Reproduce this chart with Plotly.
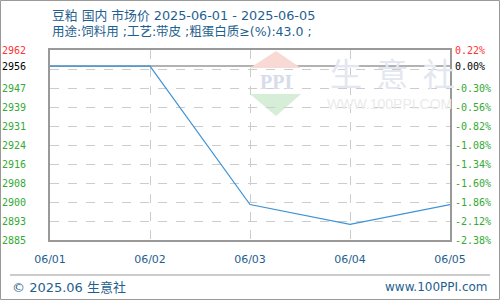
import plotly.graph_objects as go

# ---- data ----
dates = ["06/01", "06/02", "06/03", "06/04", "06/05"]
prices = [2956, 2956, 2900, 2892, 2900]
base_price = 2956
left_labels = ["2885", "2893", "2900", "2908", "2916", "2924", "2931", "2939", "2947", "2956", "2962"]
right_labels = ["-2.38%", "-2.12%", "-1.86%", "-1.60%", "-1.34%", "-1.08%", "-0.82%", "-0.56%", "-0.30%", "0.00%", "0.22%"]
title_line1 = "豆粕 国内 市场价 2025-06-01 - 2025-06-05"
title_line2 = "用途:饲料用 ;工艺:带皮 ;粗蛋白质≥(%):43.0 ;"
footer_left = "© 2025.06 生意社"
footer_right = "www.100PPI.com"

y_min = base_price * (1 - 0.0238)
y_max = base_price * (1 + 0.0022)
n = len(left_labels) - 1
grid_vals = [y_min + i * (y_max - y_min) / n for i in range(n + 1)]
label_vals = list(grid_vals)
label_vals[n - 1] = base_price


def colored(labels, base_idx, top_idx):
    out = []
    for i, t in enumerate(labels):
        if i == top_idx:
            c = "#ff3333"
        elif i == base_idx:
            c = "#000000"
        else:
            c = "#33aa33"
        out.append(f"<span style='color:{c}'>{t}</span>")
    return out


TXT = "#1f5f8f"
FONT = "DejaVu Sans, Noto Sans CJK SC"
CJK = "Noto Sans CJK SC"
MONO = "DejaVu Sans Mono"

fig = go.Figure()
fig.add_trace(go.Scatter(x=dates, y=prices, mode="lines",
                         line=dict(color="#3d93d6", width=1.2), showlegend=False))
fig.add_trace(go.Scatter(x=dates, y=prices, yaxis="y2", mode="lines",
                         line=dict(width=0), hoverinfo="skip", showlegend=False))
fig.add_trace(go.Scatter(x=dates, y=prices, yaxis="y3", mode="lines",
                         line=dict(width=0), hoverinfo="skip", showlegend=False))

W, H = 500, 300
L, R, T, B = 50, 50, 50, 60
pw, ph = W - L - R, H - T - B


def px(x):
    return (x - L) / pw


def py(y):
    return (H - B - y) / ph


fig.update_layout(
    width=W, height=H,
    margin=dict(l=L, r=R, t=T, b=B, autoexpand=False),
    paper_bgcolor="white", plot_bgcolor="rgba(0,0,0,0)",
    font=dict(family=FONT, size=11, color=TXT),
    xaxis=dict(type="category", range=[0, len(dates) - 1], automargin=False,
               showgrid=True, gridcolor="#cccccc", griddash="dash", gridwidth=1,
               showline=True, linecolor="#999999", linewidth=2, mirror=True,
               ticks="", tickfont=dict(family="DejaVu Sans", size=11, color=TXT),
               ticklabelstandoff=8, zeroline=False, fixedrange=True),
    yaxis=dict(range=[y_min, y_max], tickvals=label_vals, automargin=False,
               ticktext=colored(left_labels, n - 1, n),
               showgrid=False, zeroline=False,
               showline=True, linecolor="#999999", linewidth=2, mirror=True,
               ticks="", ticklabelstandoff=20,
               tickfont=dict(family=MONO, size=10, color="#33aa33")),
    yaxis2=dict(range=[y_min, y_max], overlaying="y", side="right", automargin=False,
                tickvals=label_vals, ticktext=colored(right_labels, n - 1, n),
                showgrid=False, zeroline=False, showline=False, ticks="",
                ticklabelstandoff=4,
                tickfont=dict(family=MONO, size=10, color="#33aa33")),
    yaxis3=dict(range=[y_min, y_max], overlaying="y", side="left", automargin=False,
                tickvals=grid_vals, showticklabels=False,
                showgrid=True, gridcolor="#cccccc", griddash="dash", gridwidth=1,
                zeroline=False, showline=False, ticks=""),
)

# baseline reference line
fig.add_shape(type="line", xref="paper", yref="y", x0=0, x1=1,
              y0=base_price, y1=base_price, line=dict(color="#999999", width=1.5), layer="below")

# watermark logo
fig.add_shape(type="path", xref="paper", yref="paper",
              path=f"M {px(250)} {py(68)} L {px(276)} {py(51)} L {px(301)} {py(68)} Z",
              fillcolor="#f8d9d4", line=dict(width=0), layer="below")
fig.add_shape(type="path", xref="paper", yref="paper",
              path=f"M {px(250)} {py(94)} L {px(276)} {py(116)} L {px(301)} {py(94)} Z",
              fillcolor="#d6eed8", line=dict(width=0), layer="below")
fig.add_annotation(xref="paper", yref="paper", x=px(276), y=py(82), xanchor="center", yanchor="middle",
                   text="<b>PPI</b>", showarrow=False,
                   font=dict(family="Liberation Serif", size=20, color="#d6dcea"))
fig.add_annotation(xref="paper", yref="paper", x=px(392), y=py(72), xanchor="center", yanchor="middle",
                   text="生  意  社", showarrow=False, font=dict(family=CJK, size=32, color="#e2e7f0"))
fig.add_annotation(xref="paper", yref="paper", x=px(389), y=py(104), xanchor="center", yanchor="middle",
                   text="WWW.100PPI.COM", showarrow=False,
                   font=dict(family="Liberation Sans", size=14, color="#ebebeb"))

# titles
fig.add_annotation(xref="paper", yref="paper", x=0, y=py(15), xanchor="left", yanchor="middle",
                   text=title_line1, showarrow=False, font=dict(family=FONT, size=12.8, color=TXT))
fig.add_annotation(xref="paper", yref="paper", x=0, y=py(32), xanchor="left", yanchor="middle",
                   text=title_line2, showarrow=False, font=dict(family=FONT, size=12.5, color=TXT))

# footer
fig.add_shape(type="line", xref="paper", yref="paper", x0=px(10), x1=px(490),
              y0=py(275), y1=py(275), line=dict(color="#999999", width=1))
fig.add_annotation(xref="paper", yref="paper", x=px(10), y=py(287), xanchor="left", yanchor="middle",
                   text=footer_left, showarrow=False, font=dict(family=FONT, size=13, color=TXT))
fig.add_annotation(xref="paper", yref="paper", x=px(490), y=py(287), xanchor="right", yanchor="middle",
                   text=footer_right, showarrow=False, font=dict(family="DejaVu Sans", size=12, color=TXT))

# outer frame
fig.add_shape(type="rect", xref="paper", yref="paper", x0=px(0.5), x1=px(499.5),
              y0=py(0.5), y1=py(299.5), line=dict(color="#999999", width=1))

fig.write_html("out.html")
